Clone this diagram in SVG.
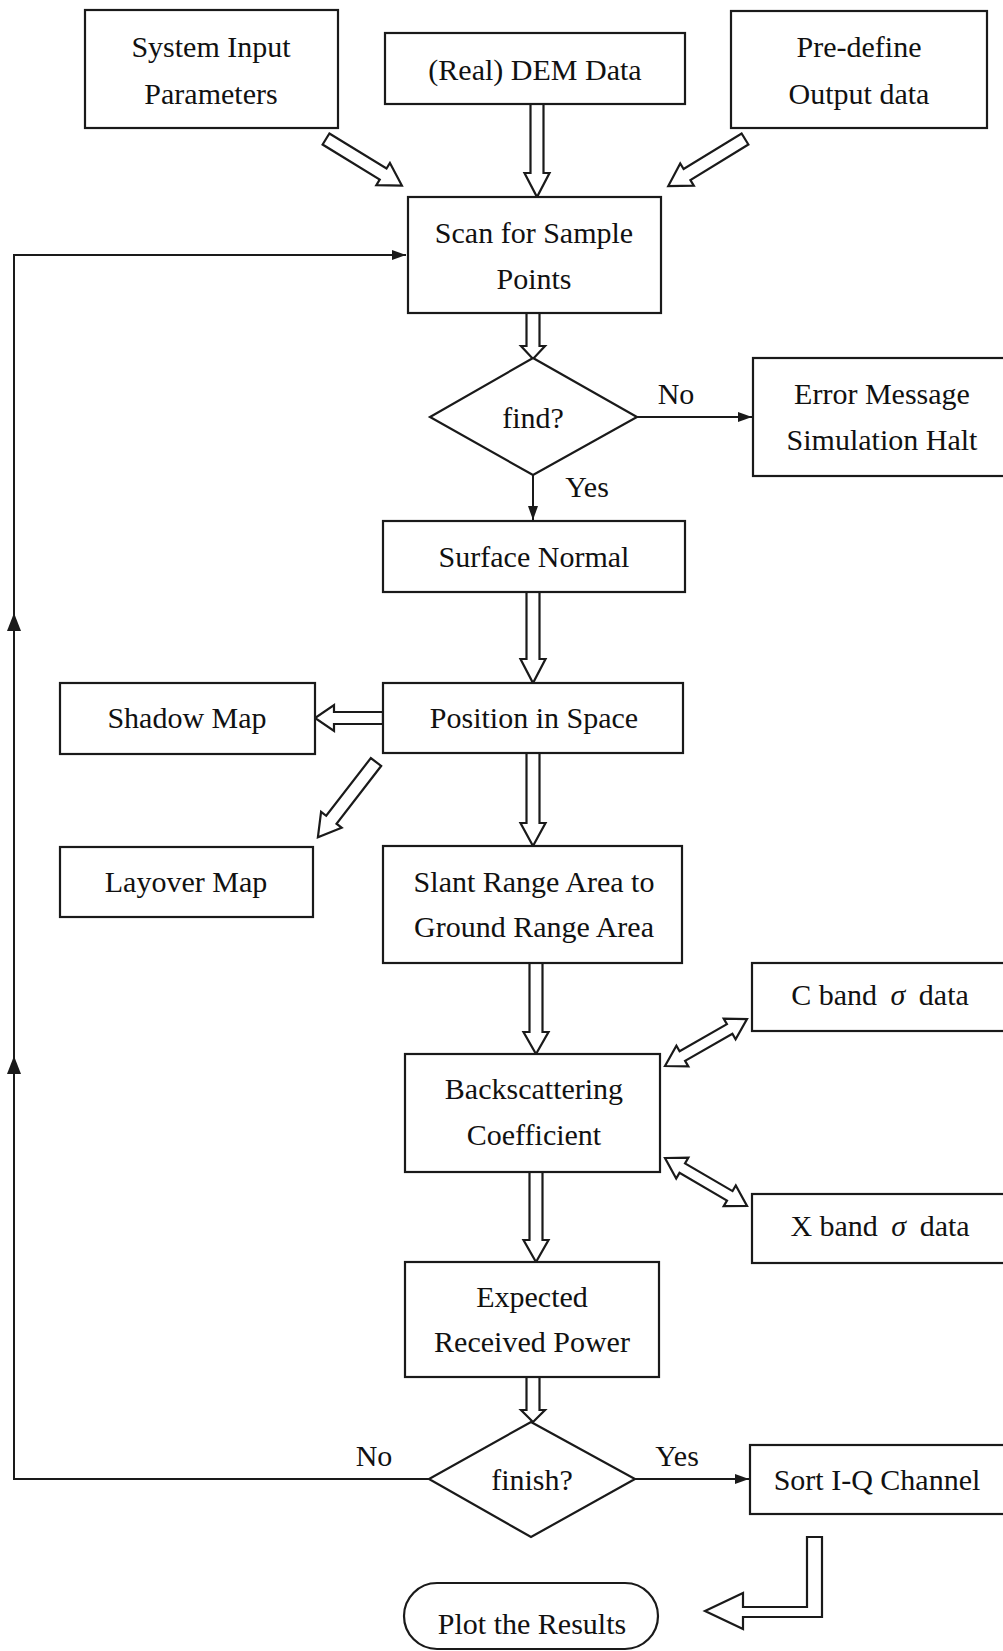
<svg xmlns="http://www.w3.org/2000/svg" width="1003" height="1651" viewBox="0 0 1003 1651">
<style>
.box{fill:#fff;stroke:#1a1a1a;stroke-width:2.2}
.ho{fill:#fff;stroke:#1a1a1a;stroke-width:2.2;stroke-linejoin:miter}
.ln{fill:none;stroke:#1a1a1a;stroke-width:2}
.t{font-family:"Liberation Serif","Times New Roman",serif;font-size:30px;fill:#111;text-anchor:middle}
.s{font-style:italic}
</style>
<defs>
<marker id="ah" viewBox="0 0 14 10" refX="14" refY="5" markerWidth="14" markerHeight="10" markerUnits="userSpaceOnUse" orient="auto">
<path d="M0,0 L14,5 L0,10 Z" fill="#1a1a1a"/>
</marker>
</defs>
<rect width="1003" height="1651" fill="#fff"/>
<g id="connectors">
<path class="ln" d="M429,1479 H14 V255 H406" marker-end="url(#ah)"/>
<path d="M14,613 L21,631 L7,631 Z" fill="#1a1a1a"/>
<path d="M14,1056 L21,1074 L7,1074 Z" fill="#1a1a1a"/>
<path class="ln" d="M637,417 H752" marker-end="url(#ah)"/>
<path class="ln" d="M533,475 V520" marker-end="url(#ah)"/>
<path class="ln" d="M635,1479 H749" marker-end="url(#ah)"/>
<polygon class="ho" points="530.5,104 530.5,173 524.5,173 537,197 549.5,173 543.5,173 543.5,104"/>
<polygon class="ho" points="526.5,313 526.5,346 521,346 533,359 545,346 539.5,346 539.5,313"/>
<polygon class="ho" points="526.5,592 526.5,659 520.5,659 533,683 545.5,659 539.5,659 539.5,592"/>
<polygon class="ho" points="526.5,753 526.5,823 520.5,823 533,846 545.5,823 539.5,823 539.5,753"/>
<polygon class="ho" points="529.5,963 529.5,1032 523.5,1032 536,1054 548.5,1032 542.5,1032 542.5,963"/>
<polygon class="ho" points="529.5,1172 529.5,1240 523.5,1240 536,1262 548.5,1240 542.5,1240 542.5,1172"/>
<polygon class="ho" points="526.5,1377 526.5,1410 521,1410 533,1422 545,1410 539.5,1410 539.5,1377"/>
<polygon class="ho" points="383,712 334,712 334,705 315,718 334,731 334,724 383,724"/>
<polygon class="ho" transform="translate(326,139) rotate(31.5)" points="0,-6.5 67,-6.5 67,-13 89,0 67,13 67,6.5 0,6.5"/>
<polygon class="ho" transform="translate(745,139) rotate(148.5)" points="0,-6.5 68,-6.5 68,-13 90,0 68,13 68,6.5 0,6.5"/>
<polygon class="ho" transform="translate(376,762) rotate(127.7)" points="0,-6.5 73,-6.5 73,-13 95,0 73,13 73,6.5 0,6.5"/>
<polygon class="ho" transform="translate(665,1066) rotate(-29.8)" points="0,0 20,-12 20,-5.5 74.5,-5.5 74.5,-12 94.5,0 74.5,12 74.5,5.5 20,5.5 20,12"/>
<polygon class="ho" transform="translate(665,1158) rotate(30.3)" points="0,0 20,-12 20,-5.5 75,-5.5 75,-12 95,0 75,12 75,5.5 20,5.5 20,12"/>
<polygon class="ho" points="807,1537 822,1537 822,1617 743,1617 743,1629 705,1611 743,1593 743,1607 807,1607"/>
</g>
<g id="sys"><rect class="box" x="85" y="10" width="253" height="118"/><text class="t" x="211" y="57">System Input</text><text class="t" x="211" y="104">Parameters</text></g>
<g id="dem"><rect class="box" x="385" y="33" width="300" height="71"/><text class="t" x="535" y="80">(Real) DEM Data</text></g>
<g id="predef"><rect class="box" x="731" y="11" width="256" height="117"/><text class="t" x="859" y="57">Pre-define</text><text class="t" x="859" y="104">Output data</text></g>
<g id="scan"><rect class="box" x="408" y="197" width="253" height="116"/><text class="t" x="534" y="243">Scan for Sample</text><text class="t" x="534" y="289">Points</text></g>
<g id="find"><polygon class="box" points="533,358 637,417 533,475 430,417"/><text class="t" x="533" y="428">find?</text></g>
<text class="t" x="676" y="404">No</text>
<text class="t" x="587" y="497">Yes</text>
<g id="error"><rect class="box" x="753" y="358" width="260" height="118"/><text class="t" x="882" y="404">Error Message</text><text class="t" x="882" y="450">Simulation Halt</text></g>
<g id="surface"><rect class="box" x="383" y="521" width="302" height="71"/><text class="t" x="534" y="567">Surface Normal</text></g>
<g id="shadow"><rect class="box" x="60" y="683" width="255" height="71"/><text class="t" x="187" y="728">Shadow Map</text></g>
<g id="position"><rect class="box" x="383" y="683" width="300" height="70"/><text class="t" x="534" y="728">Position in Space</text></g>
<g id="layover"><rect class="box" x="60" y="847" width="253" height="70"/><text class="t" x="186" y="892">Layover Map</text></g>
<g id="slant"><rect class="box" x="383" y="846" width="299" height="117"/><text class="t" x="534" y="892">Slant Range Area to</text><text class="t" x="534" y="937">Ground Range Area</text></g>
<g id="cband"><rect class="box" x="752" y="963" width="261" height="68"/><text class="t" x="880" y="1005">C band <tspan class="s" dx="6">σ</tspan><tspan dx="6"> data</tspan></text></g>
<g id="backscatter"><rect class="box" x="405" y="1054" width="255" height="118"/><text class="t" x="534" y="1099">Backscattering</text><text class="t" x="534" y="1145">Coefficient</text></g>
<g id="xband"><rect class="box" x="752" y="1194" width="261" height="69"/><text class="t" x="880" y="1236">X band <tspan class="s" dx="6">σ</tspan><tspan dx="6"> data</tspan></text></g>
<g id="expected"><rect class="box" x="405" y="1262" width="254" height="115"/><text class="t" x="532" y="1307">Expected</text><text class="t" x="532" y="1352">Received Power</text></g>
<g id="finish"><polygon class="box" points="531,1422 635,1479 531,1537 429,1479"/><text class="t" x="532" y="1490">finish?</text></g>
<text class="t" x="374" y="1466">No</text>
<text class="t" x="677" y="1466">Yes</text>
<g id="sort"><rect class="box" x="750" y="1445" width="263" height="69"/><text class="t" x="877" y="1490">Sort I-Q Channel</text></g>
<g id="plot"><rect class="box" x="404" y="1583" width="254" height="66" rx="33" ry="33"/><text class="t" x="532" y="1634">Plot the Results</text></g>
</svg>
